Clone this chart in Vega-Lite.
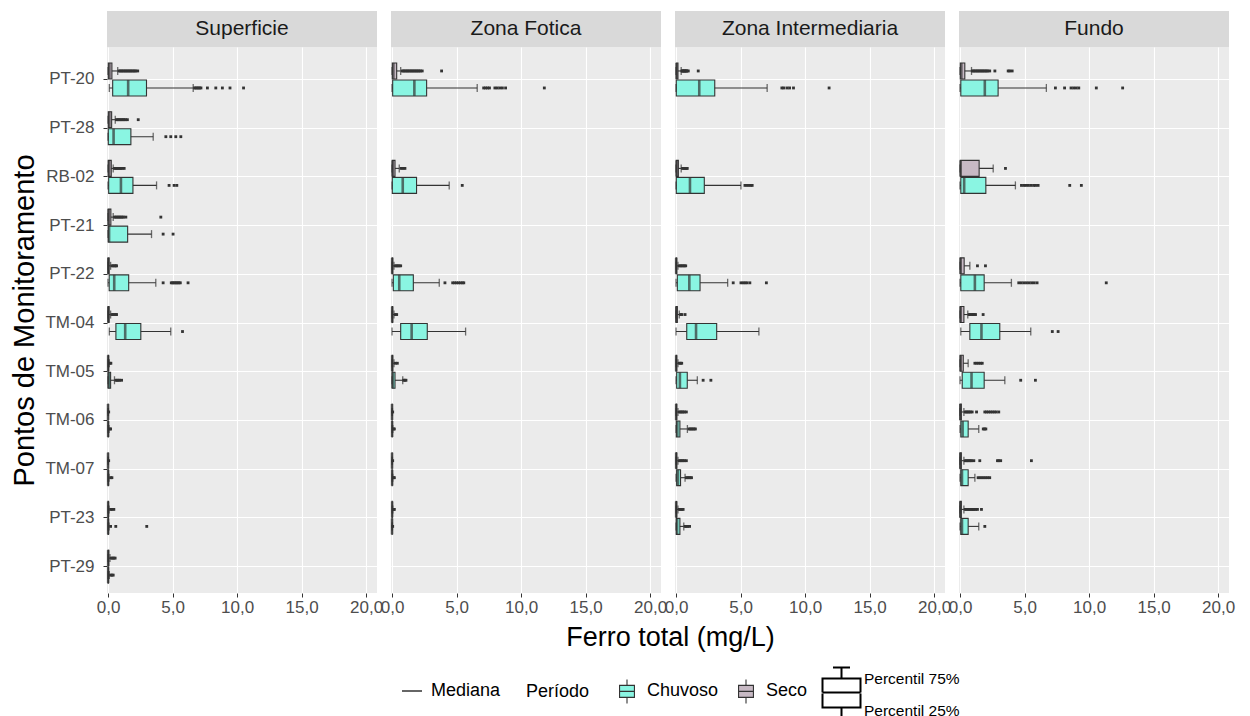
{
"$schema": "https://vega.github.io/schema/vega-lite/v6.json",
"padding": {"left": 10, "top": 11, "right": 5, "bottom": 0},
"background": "white",
"config": {
  "font": "Liberation Sans",
  "view": {"stroke": null},
  "legend": {"padding": 0}
},
"data": {"values": [
{"k":"b","z":"Superficie","p":"PT-20","t":"Seco","lo":0,"q1":0.02,"md":0.1,"q3":0.3,"hi":0.75},
{"k":"b","z":"Superficie","p":"PT-20","t":"Chuvoso","lo":0.1,"q1":0.36,"md":1.56,"q3":2.98,"hi":6.6},
{"k":"b","z":"Superficie","p":"PT-28","t":"Seco","lo":0,"q1":0.02,"md":0.1,"q3":0.28,"hi":0.56},
{"k":"b","z":"Superficie","p":"PT-28","t":"Chuvoso","lo":0,"q1":0.02,"md":0.43,"q3":1.77,"hi":3.5},
{"k":"b","z":"Superficie","p":"RB-02","t":"Seco","lo":0,"q1":0.02,"md":0.08,"q3":0.25,"hi":0.4},
{"k":"b","z":"Superficie","p":"RB-02","t":"Chuvoso","lo":0,"q1":0.05,"md":1.0,"q3":1.93,"hi":3.76},
{"k":"b","z":"Superficie","p":"PT-21","t":"Seco","lo":0,"q1":0.01,"md":0.05,"q3":0.22,"hi":0.4},
{"k":"b","z":"Superficie","p":"PT-21","t":"Chuvoso","lo":0,"q1":0.02,"md":0.08,"q3":1.52,"hi":3.37},
{"k":"b","z":"Superficie","p":"PT-22","t":"Seco","lo":0,"q1":0,"md":0.02,"q3":0.08,"hi":0.2},
{"k":"b","z":"Superficie","p":"PT-22","t":"Chuvoso","lo":0,"q1":0.09,"md":0.48,"q3":1.6,"hi":3.7},
{"k":"b","z":"Superficie","p":"TM-04","t":"Seco","lo":0,"q1":0,"md":0.02,"q3":0.08,"hi":0.2},
{"k":"b","z":"Superficie","p":"TM-04","t":"Chuvoso","lo":0.1,"q1":0.61,"md":1.33,"q3":2.54,"hi":4.86},
{"k":"b","z":"Superficie","p":"TM-05","t":"Seco","lo":0,"q1":0,"md":0.01,"q3":0.04,"hi":0.1},
{"k":"b","z":"Superficie","p":"TM-05","t":"Chuvoso","lo":0,"q1":0.01,"md":0.05,"q3":0.2,"hi":0.5},
{"k":"b","z":"Superficie","p":"TM-06","t":"Seco","lo":0,"q1":0,"md":0,"q3":0.01,"hi":0.03},
{"k":"b","z":"Superficie","p":"TM-06","t":"Chuvoso","lo":0,"q1":0,"md":0.01,"q3":0.03,"hi":0.08},
{"k":"b","z":"Superficie","p":"TM-07","t":"Seco","lo":0,"q1":0,"md":0,"q3":0.01,"hi":0.03},
{"k":"b","z":"Superficie","p":"TM-07","t":"Chuvoso","lo":0,"q1":0,"md":0.01,"q3":0.03,"hi":0.08},
{"k":"b","z":"Superficie","p":"PT-23","t":"Seco","lo":0,"q1":0,"md":0.01,"q3":0.03,"hi":0.08},
{"k":"b","z":"Superficie","p":"PT-23","t":"Chuvoso","lo":0,"q1":0,"md":0.01,"q3":0.03,"hi":0.08},
{"k":"b","z":"Superficie","p":"PT-29","t":"Seco","lo":0,"q1":0,"md":0.01,"q3":0.05,"hi":0.15},
{"k":"b","z":"Superficie","p":"PT-29","t":"Chuvoso","lo":0,"q1":0,"md":0.01,"q3":0.03,"hi":0.1},
{"k":"b","z":"Zona Fotica","p":"PT-20","t":"Seco","lo":0,"q1":0.02,"md":0.1,"q3":0.36,"hi":0.67},
{"k":"b","z":"Zona Fotica","p":"PT-20","t":"Chuvoso","lo":0,"q1":0.05,"md":1.73,"q3":2.68,"hi":6.6},
{"k":"b","z":"Zona Fotica","p":"RB-02","t":"Seco","lo":0,"q1":0.02,"md":0.05,"q3":0.23,"hi":0.56},
{"k":"b","z":"Zona Fotica","p":"RB-02","t":"Chuvoso","lo":0,"q1":0.02,"md":0.83,"q3":1.9,"hi":4.43},
{"k":"b","z":"Zona Fotica","p":"PT-22","t":"Seco","lo":0,"q1":0,"md":0.01,"q3":0.05,"hi":0.15},
{"k":"b","z":"Zona Fotica","p":"PT-22","t":"Chuvoso","lo":0,"q1":0.1,"md":0.56,"q3":1.65,"hi":3.66},
{"k":"b","z":"Zona Fotica","p":"TM-04","t":"Seco","lo":0,"q1":0,"md":0.01,"q3":0.05,"hi":0.15},
{"k":"b","z":"Zona Fotica","p":"TM-04","t":"Chuvoso","lo":0,"q1":0.67,"md":1.52,"q3":2.73,"hi":5.7},
{"k":"b","z":"Zona Fotica","p":"TM-05","t":"Seco","lo":0,"q1":0,"md":0.01,"q3":0.05,"hi":0.15},
{"k":"b","z":"Zona Fotica","p":"TM-05","t":"Chuvoso","lo":0,"q1":0.01,"md":0.05,"q3":0.23,"hi":0.83},
{"k":"b","z":"Zona Fotica","p":"TM-06","t":"Seco","lo":0,"q1":0,"md":0,"q3":0.01,"hi":0.03},
{"k":"b","z":"Zona Fotica","p":"TM-06","t":"Chuvoso","lo":0,"q1":0,"md":0.01,"q3":0.02,"hi":0.06},
{"k":"b","z":"Zona Fotica","p":"TM-07","t":"Seco","lo":0,"q1":0,"md":0,"q3":0.01,"hi":0.03},
{"k":"b","z":"Zona Fotica","p":"TM-07","t":"Chuvoso","lo":0,"q1":0,"md":0.01,"q3":0.02,"hi":0.06},
{"k":"b","z":"Zona Fotica","p":"PT-23","t":"Seco","lo":0,"q1":0,"md":0.01,"q3":0.02,"hi":0.06},
{"k":"b","z":"Zona Fotica","p":"PT-23","t":"Chuvoso","lo":0,"q1":0,"md":0,"q3":0.01,"hi":0.03},
{"k":"b","z":"Zona Intermediaria","p":"PT-20","t":"Seco","lo":0,"q1":0.02,"md":0.05,"q3":0.15,"hi":0.4},
{"k":"b","z":"Zona Intermediaria","p":"PT-20","t":"Chuvoso","lo":0,"q1":0.02,"md":1.8,"q3":3.0,"hi":7.06},
{"k":"b","z":"Zona Intermediaria","p":"RB-02","t":"Seco","lo":0,"q1":0.02,"md":0.05,"q3":0.18,"hi":0.4},
{"k":"b","z":"Zona Intermediaria","p":"RB-02","t":"Chuvoso","lo":0,"q1":0.02,"md":1.08,"q3":2.19,"hi":5.03},
{"k":"b","z":"Zona Intermediaria","p":"PT-22","t":"Seco","lo":0,"q1":0,"md":0.01,"q3":0.05,"hi":0.15},
{"k":"b","z":"Zona Intermediaria","p":"PT-22","t":"Chuvoso","lo":0,"q1":0.1,"md":1.03,"q3":1.86,"hi":4.0},
{"k":"b","z":"Zona Intermediaria","p":"TM-04","t":"Seco","lo":0,"q1":0,"md":0.02,"q3":0.1,"hi":0.25},
{"k":"b","z":"Zona Intermediaria","p":"TM-04","t":"Chuvoso","lo":0,"q1":0.83,"md":1.55,"q3":3.15,"hi":6.42},
{"k":"b","z":"Zona Intermediaria","p":"TM-05","t":"Seco","lo":0,"q1":0,"md":0.01,"q3":0.05,"hi":0.15},
{"k":"b","z":"Zona Intermediaria","p":"TM-05","t":"Chuvoso","lo":0,"q1":0.05,"md":0.3,"q3":0.87,"hi":1.65},
{"k":"b","z":"Zona Intermediaria","p":"TM-06","t":"Seco","lo":0,"q1":0,"md":0.01,"q3":0.05,"hi":0.15},
{"k":"b","z":"Zona Intermediaria","p":"TM-06","t":"Chuvoso","lo":0,"q1":0.02,"md":0.1,"q3":0.3,"hi":0.88},
{"k":"b","z":"Zona Intermediaria","p":"TM-07","t":"Seco","lo":0,"q1":0,"md":0.01,"q3":0.05,"hi":0.15},
{"k":"b","z":"Zona Intermediaria","p":"TM-07","t":"Chuvoso","lo":0,"q1":0.05,"md":0.15,"q3":0.35,"hi":0.7},
{"k":"b","z":"Zona Intermediaria","p":"PT-23","t":"Seco","lo":0,"q1":0,"md":0.01,"q3":0.05,"hi":0.15},
{"k":"b","z":"Zona Intermediaria","p":"PT-23","t":"Chuvoso","lo":0,"q1":0.02,"md":0.08,"q3":0.3,"hi":0.6},
{"k":"b","z":"Fundo","p":"PT-20","t":"Seco","lo":0,"q1":0.02,"md":0.1,"q3":0.37,"hi":0.89},
{"k":"b","z":"Fundo","p":"PT-20","t":"Chuvoso","lo":0,"q1":0.06,"md":1.92,"q3":2.95,"hi":6.69},
{"k":"b","z":"Fundo","p":"RB-02","t":"Seco","lo":0,"q1":0.02,"md":0.05,"q3":1.48,"hi":2.57},
{"k":"b","z":"Fundo","p":"RB-02","t":"Chuvoso","lo":0,"q1":0.06,"md":0.32,"q3":2.0,"hi":4.29},
{"k":"b","z":"Fundo","p":"PT-22","t":"Seco","lo":0,"q1":0.01,"md":0.05,"q3":0.32,"hi":0.76},
{"k":"b","z":"Fundo","p":"PT-22","t":"Chuvoso","lo":0,"q1":0.06,"md":1.15,"q3":1.87,"hi":3.98},
{"k":"b","z":"Fundo","p":"TM-04","t":"Seco","lo":0,"q1":0.01,"md":0.05,"q3":0.3,"hi":0.6},
{"k":"b","z":"Fundo","p":"TM-04","t":"Chuvoso","lo":0.06,"q1":0.76,"md":1.66,"q3":3.08,"hi":5.48},
{"k":"b","z":"Fundo","p":"TM-05","t":"Seco","lo":0,"q1":0.01,"md":0.05,"q3":0.25,"hi":0.63},
{"k":"b","z":"Fundo","p":"TM-05","t":"Chuvoso","lo":0,"q1":0.17,"md":0.89,"q3":1.87,"hi":3.47},
{"k":"b","z":"Fundo","p":"TM-06","t":"Seco","lo":0,"q1":0,"md":0.02,"q3":0.1,"hi":0.3},
{"k":"b","z":"Fundo","p":"TM-06","t":"Chuvoso","lo":0,"q1":0.06,"md":0.2,"q3":0.63,"hi":1.45},
{"k":"b","z":"Fundo","p":"TM-07","t":"Seco","lo":0,"q1":0,"md":0.02,"q3":0.1,"hi":0.3},
{"k":"b","z":"Fundo","p":"TM-07","t":"Chuvoso","lo":0,"q1":0.06,"md":0.15,"q3":0.63,"hi":1.15},
{"k":"b","z":"Fundo","p":"PT-23","t":"Seco","lo":0,"q1":0,"md":0.02,"q3":0.1,"hi":0.3},
{"k":"b","z":"Fundo","p":"PT-23","t":"Chuvoso","lo":0,"q1":0.06,"md":0.15,"q3":0.63,"hi":1.45},
{"k":"o","z":"Superficie","p":"PT-20","t":"Seco","v":0.85},{"k":"o","z":"Superficie","p":"PT-20","t":"Seco","v":0.95},{"k":"o","z":"Superficie","p":"PT-20","t":"Seco","v":1.05},{"k":"o","z":"Superficie","p":"PT-20","t":"Seco","v":1.15},{"k":"o","z":"Superficie","p":"PT-20","t":"Seco","v":1.25},{"k":"o","z":"Superficie","p":"PT-20","t":"Seco","v":1.35},{"k":"o","z":"Superficie","p":"PT-20","t":"Seco","v":1.45},{"k":"o","z":"Superficie","p":"PT-20","t":"Seco","v":1.55},{"k":"o","z":"Superficie","p":"PT-20","t":"Seco","v":1.65},{"k":"o","z":"Superficie","p":"PT-20","t":"Seco","v":1.75},{"k":"o","z":"Superficie","p":"PT-20","t":"Seco","v":1.85},{"k":"o","z":"Superficie","p":"PT-20","t":"Seco","v":1.95},{"k":"o","z":"Superficie","p":"PT-20","t":"Seco","v":2.05},{"k":"o","z":"Superficie","p":"PT-20","t":"Seco","v":2.15},{"k":"o","z":"Superficie","p":"PT-20","t":"Seco","v":2.3},
{"k":"o","z":"Superficie","p":"PT-20","t":"Chuvoso","v":6.7},{"k":"o","z":"Superficie","p":"PT-20","t":"Chuvoso","v":6.8},{"k":"o","z":"Superficie","p":"PT-20","t":"Chuvoso","v":6.9},{"k":"o","z":"Superficie","p":"PT-20","t":"Chuvoso","v":7.0},{"k":"o","z":"Superficie","p":"PT-20","t":"Chuvoso","v":7.1},{"k":"o","z":"Superficie","p":"PT-20","t":"Chuvoso","v":7.2},{"k":"o","z":"Superficie","p":"PT-20","t":"Chuvoso","v":7.7},{"k":"o","z":"Superficie","p":"PT-20","t":"Chuvoso","v":8.35},{"k":"o","z":"Superficie","p":"PT-20","t":"Chuvoso","v":8.86},{"k":"o","z":"Superficie","p":"PT-20","t":"Chuvoso","v":9.45},{"k":"o","z":"Superficie","p":"PT-20","t":"Chuvoso","v":10.5},
{"k":"o","z":"Superficie","p":"PT-28","t":"Seco","v":0.65},{"k":"o","z":"Superficie","p":"PT-28","t":"Seco","v":0.75},{"k":"o","z":"Superficie","p":"PT-28","t":"Seco","v":0.85},{"k":"o","z":"Superficie","p":"PT-28","t":"Seco","v":0.95},{"k":"o","z":"Superficie","p":"PT-28","t":"Seco","v":1.05},{"k":"o","z":"Superficie","p":"PT-28","t":"Seco","v":1.15},{"k":"o","z":"Superficie","p":"PT-28","t":"Seco","v":1.25},{"k":"o","z":"Superficie","p":"PT-28","t":"Seco","v":1.35},{"k":"o","z":"Superficie","p":"PT-28","t":"Seco","v":1.5},{"k":"o","z":"Superficie","p":"PT-28","t":"Seco","v":2.34},
{"k":"o","z":"Superficie","p":"PT-28","t":"Chuvoso","v":4.48},{"k":"o","z":"Superficie","p":"PT-28","t":"Chuvoso","v":4.86},{"k":"o","z":"Superficie","p":"PT-28","t":"Chuvoso","v":5.25},{"k":"o","z":"Superficie","p":"PT-28","t":"Chuvoso","v":5.64},
{"k":"o","z":"Superficie","p":"RB-02","t":"Seco","v":0.5},{"k":"o","z":"Superficie","p":"RB-02","t":"Seco","v":0.6},{"k":"o","z":"Superficie","p":"RB-02","t":"Seco","v":0.7},{"k":"o","z":"Superficie","p":"RB-02","t":"Seco","v":0.8},{"k":"o","z":"Superficie","p":"RB-02","t":"Seco","v":0.9},{"k":"o","z":"Superficie","p":"RB-02","t":"Seco","v":1.0},{"k":"o","z":"Superficie","p":"RB-02","t":"Seco","v":1.1},{"k":"o","z":"Superficie","p":"RB-02","t":"Seco","v":1.25},
{"k":"o","z":"Superficie","p":"RB-02","t":"Chuvoso","v":4.73},{"k":"o","z":"Superficie","p":"RB-02","t":"Chuvoso","v":5.12},{"k":"o","z":"Superficie","p":"RB-02","t":"Chuvoso","v":5.33},
{"k":"o","z":"Superficie","p":"PT-21","t":"Seco","v":0.5},{"k":"o","z":"Superficie","p":"PT-21","t":"Seco","v":0.6},{"k":"o","z":"Superficie","p":"PT-21","t":"Seco","v":0.7},{"k":"o","z":"Superficie","p":"PT-21","t":"Seco","v":0.8},{"k":"o","z":"Superficie","p":"PT-21","t":"Seco","v":0.9},{"k":"o","z":"Superficie","p":"PT-21","t":"Seco","v":1.0},{"k":"o","z":"Superficie","p":"PT-21","t":"Seco","v":1.1},{"k":"o","z":"Superficie","p":"PT-21","t":"Seco","v":1.2},{"k":"o","z":"Superficie","p":"PT-21","t":"Seco","v":1.38},{"k":"o","z":"Superficie","p":"PT-21","t":"Seco","v":4.09},
{"k":"o","z":"Superficie","p":"PT-21","t":"Chuvoso","v":4.27},{"k":"o","z":"Superficie","p":"PT-21","t":"Chuvoso","v":5.04},
{"k":"o","z":"Superficie","p":"PT-22","t":"Seco","v":0.3},{"k":"o","z":"Superficie","p":"PT-22","t":"Seco","v":0.4},{"k":"o","z":"Superficie","p":"PT-22","t":"Seco","v":0.5},{"k":"o","z":"Superficie","p":"PT-22","t":"Seco","v":0.6},{"k":"o","z":"Superficie","p":"PT-22","t":"Seco","v":0.66},
{"k":"o","z":"Superficie","p":"PT-22","t":"Chuvoso","v":4.27},{"k":"o","z":"Superficie","p":"PT-22","t":"Chuvoso","v":4.9},{"k":"o","z":"Superficie","p":"PT-22","t":"Chuvoso","v":5.0},{"k":"o","z":"Superficie","p":"PT-22","t":"Chuvoso","v":5.1},{"k":"o","z":"Superficie","p":"PT-22","t":"Chuvoso","v":5.2},{"k":"o","z":"Superficie","p":"PT-22","t":"Chuvoso","v":5.3},{"k":"o","z":"Superficie","p":"PT-22","t":"Chuvoso","v":5.4},{"k":"o","z":"Superficie","p":"PT-22","t":"Chuvoso","v":5.5},{"k":"o","z":"Superficie","p":"PT-22","t":"Chuvoso","v":5.6},{"k":"o","z":"Superficie","p":"PT-22","t":"Chuvoso","v":6.2},
{"k":"o","z":"Superficie","p":"TM-04","t":"Seco","v":0.3},{"k":"o","z":"Superficie","p":"TM-04","t":"Seco","v":0.4},{"k":"o","z":"Superficie","p":"TM-04","t":"Seco","v":0.5},{"k":"o","z":"Superficie","p":"TM-04","t":"Seco","v":0.6},{"k":"o","z":"Superficie","p":"TM-04","t":"Seco","v":0.66},
{"k":"o","z":"Superficie","p":"TM-04","t":"Chuvoso","v":5.77},
{"k":"o","z":"Superficie","p":"TM-05","t":"Seco","v":0.15},{"k":"o","z":"Superficie","p":"TM-05","t":"Seco","v":0.22},
{"k":"o","z":"Superficie","p":"TM-05","t":"Chuvoso","v":0.6},{"k":"o","z":"Superficie","p":"TM-05","t":"Chuvoso","v":0.7},{"k":"o","z":"Superficie","p":"TM-05","t":"Chuvoso","v":0.8},{"k":"o","z":"Superficie","p":"TM-05","t":"Chuvoso","v":0.9},{"k":"o","z":"Superficie","p":"TM-05","t":"Chuvoso","v":1.05},
{"k":"o","z":"Superficie","p":"TM-06","t":"Seco","v":0.05},
{"k":"o","z":"Superficie","p":"TM-06","t":"Chuvoso","v":0.15},{"k":"o","z":"Superficie","p":"TM-06","t":"Chuvoso","v":0.2},
{"k":"o","z":"Superficie","p":"TM-07","t":"Seco","v":0.05},
{"k":"o","z":"Superficie","p":"TM-07","t":"Chuvoso","v":0.2},{"k":"o","z":"Superficie","p":"TM-07","t":"Chuvoso","v":0.3},
{"k":"o","z":"Superficie","p":"PT-23","t":"Seco","v":0.2},{"k":"o","z":"Superficie","p":"PT-23","t":"Seco","v":0.3},{"k":"o","z":"Superficie","p":"PT-23","t":"Seco","v":0.45},
{"k":"o","z":"Superficie","p":"PT-23","t":"Chuvoso","v":0.2},{"k":"o","z":"Superficie","p":"PT-23","t":"Chuvoso","v":0.6},{"k":"o","z":"Superficie","p":"PT-23","t":"Chuvoso","v":3.0},
{"k":"o","z":"Superficie","p":"PT-29","t":"Seco","v":0.25},{"k":"o","z":"Superficie","p":"PT-29","t":"Seco","v":0.35},{"k":"o","z":"Superficie","p":"PT-29","t":"Seco","v":0.45},{"k":"o","z":"Superficie","p":"PT-29","t":"Seco","v":0.55},
{"k":"o","z":"Superficie","p":"PT-29","t":"Chuvoso","v":0.2},{"k":"o","z":"Superficie","p":"PT-29","t":"Chuvoso","v":0.3},{"k":"o","z":"Superficie","p":"PT-29","t":"Chuvoso","v":0.4},
{"k":"o","z":"Zona Fotica","p":"PT-20","t":"Seco","v":0.8},{"k":"o","z":"Zona Fotica","p":"PT-20","t":"Seco","v":0.9},{"k":"o","z":"Zona Fotica","p":"PT-20","t":"Seco","v":1.0},{"k":"o","z":"Zona Fotica","p":"PT-20","t":"Seco","v":1.1},{"k":"o","z":"Zona Fotica","p":"PT-20","t":"Seco","v":1.2},{"k":"o","z":"Zona Fotica","p":"PT-20","t":"Seco","v":1.3},{"k":"o","z":"Zona Fotica","p":"PT-20","t":"Seco","v":1.4},{"k":"o","z":"Zona Fotica","p":"PT-20","t":"Seco","v":1.5},{"k":"o","z":"Zona Fotica","p":"PT-20","t":"Seco","v":1.6},{"k":"o","z":"Zona Fotica","p":"PT-20","t":"Seco","v":1.7},{"k":"o","z":"Zona Fotica","p":"PT-20","t":"Seco","v":1.8},{"k":"o","z":"Zona Fotica","p":"PT-20","t":"Seco","v":1.9},{"k":"o","z":"Zona Fotica","p":"PT-20","t":"Seco","v":2.0},{"k":"o","z":"Zona Fotica","p":"PT-20","t":"Seco","v":2.1},{"k":"o","z":"Zona Fotica","p":"PT-20","t":"Seco","v":2.2},{"k":"o","z":"Zona Fotica","p":"PT-20","t":"Seco","v":2.34},{"k":"o","z":"Zona Fotica","p":"PT-20","t":"Seco","v":3.84},
{"k":"o","z":"Zona Fotica","p":"PT-20","t":"Chuvoso","v":7.1},{"k":"o","z":"Zona Fotica","p":"PT-20","t":"Chuvoso","v":7.25},{"k":"o","z":"Zona Fotica","p":"PT-20","t":"Chuvoso","v":7.4},{"k":"o","z":"Zona Fotica","p":"PT-20","t":"Chuvoso","v":7.55},{"k":"o","z":"Zona Fotica","p":"PT-20","t":"Chuvoso","v":7.97},{"k":"o","z":"Zona Fotica","p":"PT-20","t":"Chuvoso","v":8.15},{"k":"o","z":"Zona Fotica","p":"PT-20","t":"Chuvoso","v":8.35},{"k":"o","z":"Zona Fotica","p":"PT-20","t":"Chuvoso","v":8.55},{"k":"o","z":"Zona Fotica","p":"PT-20","t":"Chuvoso","v":8.8},{"k":"o","z":"Zona Fotica","p":"PT-20","t":"Chuvoso","v":11.8},
{"k":"o","z":"Zona Fotica","p":"RB-02","t":"Seco","v":0.7},{"k":"o","z":"Zona Fotica","p":"RB-02","t":"Seco","v":0.85},{"k":"o","z":"Zona Fotica","p":"RB-02","t":"Seco","v":1.0},
{"k":"o","z":"Zona Fotica","p":"RB-02","t":"Chuvoso","v":5.44},
{"k":"o","z":"Zona Fotica","p":"PT-22","t":"Seco","v":0.25},{"k":"o","z":"Zona Fotica","p":"PT-22","t":"Seco","v":0.35},{"k":"o","z":"Zona Fotica","p":"PT-22","t":"Seco","v":0.45},{"k":"o","z":"Zona Fotica","p":"PT-22","t":"Seco","v":0.55},{"k":"o","z":"Zona Fotica","p":"PT-22","t":"Seco","v":0.67},
{"k":"o","z":"Zona Fotica","p":"PT-22","t":"Chuvoso","v":4.1},{"k":"o","z":"Zona Fotica","p":"PT-22","t":"Chuvoso","v":4.7},{"k":"o","z":"Zona Fotica","p":"PT-22","t":"Chuvoso","v":4.85},{"k":"o","z":"Zona Fotica","p":"PT-22","t":"Chuvoso","v":5.0},{"k":"o","z":"Zona Fotica","p":"PT-22","t":"Chuvoso","v":5.15},{"k":"o","z":"Zona Fotica","p":"PT-22","t":"Chuvoso","v":5.3},{"k":"o","z":"Zona Fotica","p":"PT-22","t":"Chuvoso","v":5.45},{"k":"o","z":"Zona Fotica","p":"PT-22","t":"Chuvoso","v":5.56},
{"k":"o","z":"Zona Fotica","p":"TM-04","t":"Seco","v":0.25},{"k":"o","z":"Zona Fotica","p":"TM-04","t":"Seco","v":0.36},
{"k":"o","z":"Zona Fotica","p":"TM-05","t":"Seco","v":0.25},{"k":"o","z":"Zona Fotica","p":"TM-05","t":"Seco","v":0.41},
{"k":"o","z":"Zona Fotica","p":"TM-05","t":"Chuvoso","v":0.9},{"k":"o","z":"Zona Fotica","p":"TM-05","t":"Chuvoso","v":1.0},{"k":"o","z":"Zona Fotica","p":"TM-05","t":"Chuvoso","v":1.08},
{"k":"o","z":"Zona Fotica","p":"TM-06","t":"Seco","v":0.05},
{"k":"o","z":"Zona Fotica","p":"TM-06","t":"Chuvoso","v":0.12},{"k":"o","z":"Zona Fotica","p":"TM-06","t":"Chuvoso","v":0.18},
{"k":"o","z":"Zona Fotica","p":"TM-07","t":"Seco","v":0.05},
{"k":"o","z":"Zona Fotica","p":"TM-07","t":"Chuvoso","v":0.12},{"k":"o","z":"Zona Fotica","p":"TM-07","t":"Chuvoso","v":0.18},
{"k":"o","z":"Zona Fotica","p":"PT-23","t":"Seco","v":0.12},{"k":"o","z":"Zona Fotica","p":"PT-23","t":"Seco","v":0.18},
{"k":"o","z":"Zona Fotica","p":"PT-23","t":"Chuvoso","v":0.05},
{"k":"o","z":"Zona Intermediaria","p":"PT-20","t":"Seco","v":0.45},{"k":"o","z":"Zona Intermediaria","p":"PT-20","t":"Seco","v":0.5},{"k":"o","z":"Zona Intermediaria","p":"PT-20","t":"Seco","v":0.55},{"k":"o","z":"Zona Intermediaria","p":"PT-20","t":"Seco","v":0.6},{"k":"o","z":"Zona Intermediaria","p":"PT-20","t":"Seco","v":0.65},{"k":"o","z":"Zona Intermediaria","p":"PT-20","t":"Seco","v":0.7},{"k":"o","z":"Zona Intermediaria","p":"PT-20","t":"Seco","v":0.75},{"k":"o","z":"Zona Intermediaria","p":"PT-20","t":"Seco","v":0.8},{"k":"o","z":"Zona Intermediaria","p":"PT-20","t":"Seco","v":0.85},{"k":"o","z":"Zona Intermediaria","p":"PT-20","t":"Seco","v":0.95},{"k":"o","z":"Zona Intermediaria","p":"PT-20","t":"Seco","v":1.72},
{"k":"o","z":"Zona Intermediaria","p":"PT-20","t":"Chuvoso","v":8.2},{"k":"o","z":"Zona Intermediaria","p":"PT-20","t":"Chuvoso","v":8.35},{"k":"o","z":"Zona Intermediaria","p":"PT-20","t":"Chuvoso","v":8.6},{"k":"o","z":"Zona Intermediaria","p":"PT-20","t":"Chuvoso","v":8.8},{"k":"o","z":"Zona Intermediaria","p":"PT-20","t":"Chuvoso","v":9.1},{"k":"o","z":"Zona Intermediaria","p":"PT-20","t":"Chuvoso","v":11.86},
{"k":"o","z":"Zona Intermediaria","p":"RB-02","t":"Seco","v":0.5},{"k":"o","z":"Zona Intermediaria","p":"RB-02","t":"Seco","v":0.6},{"k":"o","z":"Zona Intermediaria","p":"RB-02","t":"Seco","v":0.7},{"k":"o","z":"Zona Intermediaria","p":"RB-02","t":"Seco","v":0.8},{"k":"o","z":"Zona Intermediaria","p":"RB-02","t":"Seco","v":0.87},
{"k":"o","z":"Zona Intermediaria","p":"RB-02","t":"Chuvoso","v":5.34},{"k":"o","z":"Zona Intermediaria","p":"RB-02","t":"Chuvoso","v":5.5},{"k":"o","z":"Zona Intermediaria","p":"RB-02","t":"Chuvoso","v":5.65},{"k":"o","z":"Zona Intermediaria","p":"RB-02","t":"Chuvoso","v":5.8},{"k":"o","z":"Zona Intermediaria","p":"RB-02","t":"Chuvoso","v":5.9},
{"k":"o","z":"Zona Intermediaria","p":"PT-22","t":"Seco","v":0.25},{"k":"o","z":"Zona Intermediaria","p":"PT-22","t":"Seco","v":0.35},{"k":"o","z":"Zona Intermediaria","p":"PT-22","t":"Seco","v":0.45},{"k":"o","z":"Zona Intermediaria","p":"PT-22","t":"Seco","v":0.55},{"k":"o","z":"Zona Intermediaria","p":"PT-22","t":"Seco","v":0.65},{"k":"o","z":"Zona Intermediaria","p":"PT-22","t":"Seco","v":0.75},
{"k":"o","z":"Zona Intermediaria","p":"PT-22","t":"Chuvoso","v":4.43},{"k":"o","z":"Zona Intermediaria","p":"PT-22","t":"Chuvoso","v":5.03},{"k":"o","z":"Zona Intermediaria","p":"PT-22","t":"Chuvoso","v":5.2},{"k":"o","z":"Zona Intermediaria","p":"PT-22","t":"Chuvoso","v":5.35},{"k":"o","z":"Zona Intermediaria","p":"PT-22","t":"Chuvoso","v":5.5},{"k":"o","z":"Zona Intermediaria","p":"PT-22","t":"Chuvoso","v":5.72},{"k":"o","z":"Zona Intermediaria","p":"PT-22","t":"Chuvoso","v":7.0},
{"k":"o","z":"Zona Intermediaria","p":"TM-04","t":"Seco","v":0.35},{"k":"o","z":"Zona Intermediaria","p":"TM-04","t":"Seco","v":0.45},{"k":"o","z":"Zona Intermediaria","p":"TM-04","t":"Seco","v":0.7},
{"k":"o","z":"Zona Intermediaria","p":"TM-05","t":"Seco","v":0.25},{"k":"o","z":"Zona Intermediaria","p":"TM-05","t":"Seco","v":0.35},{"k":"o","z":"Zona Intermediaria","p":"TM-05","t":"Seco","v":0.44},
{"k":"o","z":"Zona Intermediaria","p":"TM-05","t":"Chuvoso","v":2.1},{"k":"o","z":"Zona Intermediaria","p":"TM-05","t":"Chuvoso","v":2.7},
{"k":"o","z":"Zona Intermediaria","p":"TM-06","t":"Seco","v":0.25},{"k":"o","z":"Zona Intermediaria","p":"TM-06","t":"Seco","v":0.35},{"k":"o","z":"Zona Intermediaria","p":"TM-06","t":"Seco","v":0.45},{"k":"o","z":"Zona Intermediaria","p":"TM-06","t":"Seco","v":0.55},{"k":"o","z":"Zona Intermediaria","p":"TM-06","t":"Seco","v":0.65},{"k":"o","z":"Zona Intermediaria","p":"TM-06","t":"Seco","v":0.8},
{"k":"o","z":"Zona Intermediaria","p":"TM-06","t":"Chuvoso","v":1.0},{"k":"o","z":"Zona Intermediaria","p":"TM-06","t":"Chuvoso","v":1.1},{"k":"o","z":"Zona Intermediaria","p":"TM-06","t":"Chuvoso","v":1.2},{"k":"o","z":"Zona Intermediaria","p":"TM-06","t":"Chuvoso","v":1.3},{"k":"o","z":"Zona Intermediaria","p":"TM-06","t":"Chuvoso","v":1.4},{"k":"o","z":"Zona Intermediaria","p":"TM-06","t":"Chuvoso","v":1.5},
{"k":"o","z":"Zona Intermediaria","p":"TM-07","t":"Seco","v":0.25},{"k":"o","z":"Zona Intermediaria","p":"TM-07","t":"Seco","v":0.35},{"k":"o","z":"Zona Intermediaria","p":"TM-07","t":"Seco","v":0.45},{"k":"o","z":"Zona Intermediaria","p":"TM-07","t":"Seco","v":0.55},{"k":"o","z":"Zona Intermediaria","p":"TM-07","t":"Seco","v":0.65},{"k":"o","z":"Zona Intermediaria","p":"TM-07","t":"Seco","v":0.8},
{"k":"o","z":"Zona Intermediaria","p":"TM-07","t":"Chuvoso","v":0.8},{"k":"o","z":"Zona Intermediaria","p":"TM-07","t":"Chuvoso","v":0.9},{"k":"o","z":"Zona Intermediaria","p":"TM-07","t":"Chuvoso","v":1.0},{"k":"o","z":"Zona Intermediaria","p":"TM-07","t":"Chuvoso","v":1.1},{"k":"o","z":"Zona Intermediaria","p":"TM-07","t":"Chuvoso","v":1.2},
{"k":"o","z":"Zona Intermediaria","p":"PT-23","t":"Seco","v":0.25},{"k":"o","z":"Zona Intermediaria","p":"PT-23","t":"Seco","v":0.35},{"k":"o","z":"Zona Intermediaria","p":"PT-23","t":"Seco","v":0.45},{"k":"o","z":"Zona Intermediaria","p":"PT-23","t":"Seco","v":0.55},
{"k":"o","z":"Zona Intermediaria","p":"PT-23","t":"Chuvoso","v":0.7},{"k":"o","z":"Zona Intermediaria","p":"PT-23","t":"Chuvoso","v":0.8},{"k":"o","z":"Zona Intermediaria","p":"PT-23","t":"Chuvoso","v":0.9},{"k":"o","z":"Zona Intermediaria","p":"PT-23","t":"Chuvoso","v":1.05},
{"k":"o","z":"Fundo","p":"PT-20","t":"Seco","v":0.95},{"k":"o","z":"Fundo","p":"PT-20","t":"Seco","v":1.05},{"k":"o","z":"Fundo","p":"PT-20","t":"Seco","v":1.15},{"k":"o","z":"Fundo","p":"PT-20","t":"Seco","v":1.25},{"k":"o","z":"Fundo","p":"PT-20","t":"Seco","v":1.35},{"k":"o","z":"Fundo","p":"PT-20","t":"Seco","v":1.45},{"k":"o","z":"Fundo","p":"PT-20","t":"Seco","v":1.55},{"k":"o","z":"Fundo","p":"PT-20","t":"Seco","v":1.65},{"k":"o","z":"Fundo","p":"PT-20","t":"Seco","v":1.75},{"k":"o","z":"Fundo","p":"PT-20","t":"Seco","v":1.85},{"k":"o","z":"Fundo","p":"PT-20","t":"Seco","v":1.95},{"k":"o","z":"Fundo","p":"PT-20","t":"Seco","v":2.05},{"k":"o","z":"Fundo","p":"PT-20","t":"Seco","v":2.15},{"k":"o","z":"Fundo","p":"PT-20","t":"Seco","v":2.3},{"k":"o","z":"Fundo","p":"PT-20","t":"Seco","v":2.7},{"k":"o","z":"Fundo","p":"PT-20","t":"Seco","v":3.73},{"k":"o","z":"Fundo","p":"PT-20","t":"Seco","v":3.85},{"k":"o","z":"Fundo","p":"PT-20","t":"Seco","v":4.04},
{"k":"o","z":"Fundo","p":"PT-20","t":"Chuvoso","v":7.39},{"k":"o","z":"Fundo","p":"PT-20","t":"Chuvoso","v":8.1},{"k":"o","z":"Fundo","p":"PT-20","t":"Chuvoso","v":8.6},{"k":"o","z":"Fundo","p":"PT-20","t":"Chuvoso","v":8.8},{"k":"o","z":"Fundo","p":"PT-20","t":"Chuvoso","v":9.0},{"k":"o","z":"Fundo","p":"PT-20","t":"Chuvoso","v":9.2},{"k":"o","z":"Fundo","p":"PT-20","t":"Chuvoso","v":10.56},{"k":"o","z":"Fundo","p":"PT-20","t":"Chuvoso","v":12.6},
{"k":"o","z":"Fundo","p":"RB-02","t":"Seco","v":3.52},
{"k":"o","z":"Fundo","p":"RB-02","t":"Chuvoso","v":4.76},{"k":"o","z":"Fundo","p":"RB-02","t":"Chuvoso","v":4.95},{"k":"o","z":"Fundo","p":"RB-02","t":"Chuvoso","v":5.1},{"k":"o","z":"Fundo","p":"RB-02","t":"Chuvoso","v":5.3},{"k":"o","z":"Fundo","p":"RB-02","t":"Chuvoso","v":5.5},{"k":"o","z":"Fundo","p":"RB-02","t":"Chuvoso","v":5.7},{"k":"o","z":"Fundo","p":"RB-02","t":"Chuvoso","v":5.85},{"k":"o","z":"Fundo","p":"RB-02","t":"Chuvoso","v":6.05},{"k":"o","z":"Fundo","p":"RB-02","t":"Chuvoso","v":8.5},{"k":"o","z":"Fundo","p":"RB-02","t":"Chuvoso","v":9.4},
{"k":"o","z":"Fundo","p":"PT-22","t":"Seco","v":1.35},{"k":"o","z":"Fundo","p":"PT-22","t":"Seco","v":1.97},
{"k":"o","z":"Fundo","p":"PT-22","t":"Chuvoso","v":4.55},{"k":"o","z":"Fundo","p":"PT-22","t":"Chuvoso","v":4.75},{"k":"o","z":"Fundo","p":"PT-22","t":"Chuvoso","v":4.95},{"k":"o","z":"Fundo","p":"PT-22","t":"Chuvoso","v":5.15},{"k":"o","z":"Fundo","p":"PT-22","t":"Chuvoso","v":5.35},{"k":"o","z":"Fundo","p":"PT-22","t":"Chuvoso","v":5.55},{"k":"o","z":"Fundo","p":"PT-22","t":"Chuvoso","v":5.75},{"k":"o","z":"Fundo","p":"PT-22","t":"Chuvoso","v":5.97},{"k":"o","z":"Fundo","p":"PT-22","t":"Chuvoso","v":11.33},
{"k":"o","z":"Fundo","p":"TM-04","t":"Seco","v":0.7},{"k":"o","z":"Fundo","p":"TM-04","t":"Seco","v":0.8},{"k":"o","z":"Fundo","p":"TM-04","t":"Seco","v":0.9},{"k":"o","z":"Fundo","p":"TM-04","t":"Seco","v":1.0},{"k":"o","z":"Fundo","p":"TM-04","t":"Seco","v":1.1},{"k":"o","z":"Fundo","p":"TM-04","t":"Seco","v":1.2},{"k":"o","z":"Fundo","p":"TM-04","t":"Seco","v":1.79},
{"k":"o","z":"Fundo","p":"TM-04","t":"Chuvoso","v":7.15},{"k":"o","z":"Fundo","p":"TM-04","t":"Chuvoso","v":7.6},
{"k":"o","z":"Fundo","p":"TM-05","t":"Seco","v":1.15},{"k":"o","z":"Fundo","p":"TM-05","t":"Seco","v":1.3},{"k":"o","z":"Fundo","p":"TM-05","t":"Seco","v":1.45},{"k":"o","z":"Fundo","p":"TM-05","t":"Seco","v":1.6},{"k":"o","z":"Fundo","p":"TM-05","t":"Seco","v":1.72},
{"k":"o","z":"Fundo","p":"TM-05","t":"Chuvoso","v":4.7},{"k":"o","z":"Fundo","p":"TM-05","t":"Chuvoso","v":5.84},
{"k":"o","z":"Fundo","p":"TM-06","t":"Seco","v":0.4},{"k":"o","z":"Fundo","p":"TM-06","t":"Seco","v":0.5},{"k":"o","z":"Fundo","p":"TM-06","t":"Seco","v":0.6},{"k":"o","z":"Fundo","p":"TM-06","t":"Seco","v":0.7},{"k":"o","z":"Fundo","p":"TM-06","t":"Seco","v":0.8},{"k":"o","z":"Fundo","p":"TM-06","t":"Seco","v":0.94},{"k":"o","z":"Fundo","p":"TM-06","t":"Seco","v":1.28},{"k":"o","z":"Fundo","p":"TM-06","t":"Seco","v":1.92},{"k":"o","z":"Fundo","p":"TM-06","t":"Seco","v":2.05},{"k":"o","z":"Fundo","p":"TM-06","t":"Seco","v":2.2},{"k":"o","z":"Fundo","p":"TM-06","t":"Seco","v":2.35},{"k":"o","z":"Fundo","p":"TM-06","t":"Seco","v":2.5},{"k":"o","z":"Fundo","p":"TM-06","t":"Seco","v":2.65},{"k":"o","z":"Fundo","p":"TM-06","t":"Seco","v":2.8},{"k":"o","z":"Fundo","p":"TM-06","t":"Seco","v":3.0},
{"k":"o","z":"Fundo","p":"TM-06","t":"Chuvoso","v":1.8},{"k":"o","z":"Fundo","p":"TM-06","t":"Chuvoso","v":1.9},{"k":"o","z":"Fundo","p":"TM-06","t":"Chuvoso","v":2.0},
{"k":"o","z":"Fundo","p":"TM-07","t":"Seco","v":0.4},{"k":"o","z":"Fundo","p":"TM-07","t":"Seco","v":0.5},{"k":"o","z":"Fundo","p":"TM-07","t":"Seco","v":0.6},{"k":"o","z":"Fundo","p":"TM-07","t":"Seco","v":0.7},{"k":"o","z":"Fundo","p":"TM-07","t":"Seco","v":0.8},{"k":"o","z":"Fundo","p":"TM-07","t":"Seco","v":0.9},{"k":"o","z":"Fundo","p":"TM-07","t":"Seco","v":1.07},{"k":"o","z":"Fundo","p":"TM-07","t":"Seco","v":1.53},{"k":"o","z":"Fundo","p":"TM-07","t":"Seco","v":2.9},{"k":"o","z":"Fundo","p":"TM-07","t":"Seco","v":3.0},{"k":"o","z":"Fundo","p":"TM-07","t":"Seco","v":3.15},{"k":"o","z":"Fundo","p":"TM-07","t":"Seco","v":5.53},
{"k":"o","z":"Fundo","p":"TM-07","t":"Chuvoso","v":1.4},{"k":"o","z":"Fundo","p":"TM-07","t":"Chuvoso","v":1.55},{"k":"o","z":"Fundo","p":"TM-07","t":"Chuvoso","v":1.7},{"k":"o","z":"Fundo","p":"TM-07","t":"Chuvoso","v":1.85},{"k":"o","z":"Fundo","p":"TM-07","t":"Chuvoso","v":2.0},{"k":"o","z":"Fundo","p":"TM-07","t":"Chuvoso","v":2.15},{"k":"o","z":"Fundo","p":"TM-07","t":"Chuvoso","v":2.3},
{"k":"o","z":"Fundo","p":"PT-23","t":"Seco","v":0.4},{"k":"o","z":"Fundo","p":"PT-23","t":"Seco","v":0.5},{"k":"o","z":"Fundo","p":"PT-23","t":"Seco","v":0.6},{"k":"o","z":"Fundo","p":"PT-23","t":"Seco","v":0.7},{"k":"o","z":"Fundo","p":"PT-23","t":"Seco","v":0.8},{"k":"o","z":"Fundo","p":"PT-23","t":"Seco","v":0.9},{"k":"o","z":"Fundo","p":"PT-23","t":"Seco","v":1.0},{"k":"o","z":"Fundo","p":"PT-23","t":"Seco","v":1.1},{"k":"o","z":"Fundo","p":"PT-23","t":"Seco","v":1.2},{"k":"o","z":"Fundo","p":"PT-23","t":"Seco","v":1.35},{"k":"o","z":"Fundo","p":"PT-23","t":"Seco","v":1.66},
{"k":"o","z":"Fundo","p":"PT-23","t":"Chuvoso","v":1.92}
]},
"columns": 4,
"spacing": {"row": 0, "column": 14},
"align": "each",
"bounds": "flush",
"resolve": {"legend": {"color": "independent", "fill": "independent", "shape": "independent"}},
"concat": [
  {"data": {"values": [{"z": "Superficie"}]}, "width": 270, "height": 36, "view": {"fill": "#D9D9D9", "stroke": null},
   "mark": {"type": "text", "fontSize": 21, "color": "#1A1A1A", "font": "Liberation Sans"}, "encoding": {"text": {"field": "z", "type": "nominal"}}},
  {"data": {"values": [{"z": "Zona Fotica"}]}, "width": 270, "height": 36, "view": {"fill": "#D9D9D9", "stroke": null},
   "mark": {"type": "text", "fontSize": 21, "color": "#1A1A1A", "font": "Liberation Sans"}, "encoding": {"text": {"field": "z", "type": "nominal"}}},
  {"data": {"values": [{"z": "Zona Intermediaria"}]}, "width": 270, "height": 36, "view": {"fill": "#D9D9D9", "stroke": null},
   "mark": {"type": "text", "fontSize": 21, "color": "#1A1A1A", "font": "Liberation Sans"}, "encoding": {"text": {"field": "z", "type": "nominal"}}},
  {"data": {"values": [{"z": "Fundo"}]}, "width": 270, "height": 36, "view": {"fill": "#D9D9D9", "stroke": null},
   "mark": {"type": "text", "fontSize": 21, "color": "#1A1A1A", "font": "Liberation Sans"}, "encoding": {"text": {"field": "z", "type": "nominal"}}},
  {
    "width": 270, "height": 546, "view": {"fill": "#EBEBEB", "stroke": null},
    "transform": [{"filter": "datum.z == 'Superficie'"}],
    "encoding": {
      "y": {"field": "p", "type": "nominal", "title": "Pontos de Monitoramento",
            "sort": ["PT-20","PT-28","RB-02","PT-21","PT-22","TM-04","TM-05","TM-06","TM-07","PT-23","PT-29"],
            "scale": {"domain": ["PT-20","PT-28","RB-02","PT-21","PT-22","TM-04","TM-05","TM-06","TM-07","PT-23","PT-29"], "paddingInner": 0, "paddingOuter": 0.104, "align": 0.8},
            "axis": {"domain": false, "grid": true, "gridColor": "white", "gridWidth": 1.1, "bandPosition": 0.5, "tickColor": "#333333", "tickSize": 4, "labelColor": "#4D4D4D", "labelFontSize": 17, "labelPadding": 9, "titleFontSize": 29, "titleFontWeight": "normal", "titleColor": "#000000", "titlePadding": 5}},
      "yOffset": {"field": "t", "type": "nominal", "sort": ["Seco","Chuvoso"], "scale": {"domain": ["Seco","Chuvoso"], "paddingInner": 0.06, "paddingOuter": 0.463}}
    },
    "layer": [
      {"transform": [{"filter": "datum.k == 'b'"}], "mark": {"type": "rule", "strokeWidth": 1.1},
       "encoding": {
         "x": {"field": "lo", "type": "quantitative", "title": null, "scale": {"domain": [-0.08, 20.84], "nice": false, "zero": false},
               "axis": {"values": [0,2.5,5,7.5,10,12.5,15,17.5,20], "labelExpr": "datum.value % 5 == 0 ? replace(format(datum.value, '.1f'), '.', ',') : ''", "domain": false, "gridColor": "white", "gridWidth": {"condition": {"test": "datum.value % 5 == 0", "value": 1.1}, "value": 0.6}, "tickOpacity": {"condition": {"test": "datum.value % 5 == 0", "value": 1}, "value": 0}, "tickColor": "#333333", "tickSize": 4, "labelColor": "#4D4D4D", "labelFontSize": 17, "labelOverlap": false, "labelFlush": false, "labelPadding": 2}},
         "x2": {"field": "hi"},
         "color": {"datum": "Mediana", "type": "nominal", "scale": {"domain": ["Mediana"], "range": ["#333333"]},
                   "legend": {"title": null, "orient": "none", "legendX": 294, "legendY": 633, "symbolType": "stroke", "symbolStrokeWidth": 1.5, "symbolSize": 400, "labelFontSize": 18, "labelColor": "#000000", "labelOffset": 8}}}},
      {"transform": [{"filter": "datum.k == 'b'"}, {"fold": ["lo", "hi"], "as": ["key", "val"]}], "mark": {"type": "point", "filled": false, "color": "#000000", "strokeWidth": 2, "opacity": 0, "size": 625},
       "encoding": {"x": {"field": "q1", "type": "quantitative"},
         "shape": {"field": "key", "type": "nominal",
                   "scale": {"domain": ["hi", "lo"], "range": ["M-0.68,-0.88H0.68M0,-0.88V0M-1.52,1.12V0H1.52V1.12M-1.52,1.12H1.52", "M-1.52,-1.36V-0.24H1.52V-1.36M0,-0.24V0.56M-0.68,0.56H0.68"]},
                   "legend": {"title": null, "orient": "none", "legendX": 721, "legendY": 618, "direction": "vertical", "rowPadding": -9, "symbolSize": 625, "symbolOpacity": 1, "symbolStrokeWidth": 2, "symbolStrokeColor": "#000000", "symbolFillColor": "transparent",
                              "labelExpr": "datum.value == 'hi' ? 'Percentil 75%' : 'Percentil 25%'", "labelFontSize": 15.5, "labelColor": "#000000", "labelOffset": 9}}}},
      {"transform": [{"filter": "datum.k == 'b'"}], "mark": {"type": "bar", "stroke": "#333333", "strokeWidth": 1.1},
       "encoding": {"x": {"field": "q1", "type": "quantitative"}, "x2": {"field": "q3"},
         "fill": {"field": "t", "type": "nominal", "scale": {"domain": ["Chuvoso","Seco"], "range": ["#8AF5E2","#C7B9C4"]},
                  "legend": {"title": "Período", "orient": "none", "legendX": 419, "legendY": 631, "direction": "horizontal", "titleOrient": "left", "titleBaseline": "middle", "symbolType": "M-0.62,-0.5H0.62V0.5H-0.62Z M-0.62,0H0.62 M0,-1V-0.5 M0,0.5V1", "symbolSize": 576, "symbolStrokeColor": "#333333", "symbolStrokeWidth": 1.1, "labelFontSize": 18, "labelColor": "#000000", "labelOffset": 7, "titleFontSize": 18, "titleFontWeight": "normal", "titleColor": "#000000", "titlePadding": 24, "columnPadding": 14}}}},
      {"transform": [{"filter": "datum.k == 'b'"}], "mark": {"type": "tick", "color": "#333333", "thickness": 2.6, "size": 16},
       "encoding": {"x": {"field": "md", "type": "quantitative"}}},
      {"transform": [{"filter": "datum.k == 'b'"}, {"fold": ["lo", "hi"], "as": ["key", "val"]}], "mark": {"type": "tick", "color": "#333333", "thickness": 1.3, "size": 8},
       "encoding": {"x": {"field": "val", "type": "quantitative"}}},
      {"transform": [{"filter": "datum.k == 'o'"}], "mark": {"type": "square", "color": "#333333", "size": 8, "opacity": 1},
       "encoding": {"x": {"field": "v", "type": "quantitative"}}}
    ]
  },
  {
    "width": 270, "height": 546, "view": {"fill": "#EBEBEB", "stroke": null},
    "transform": [{"filter": "datum.z == 'Zona Fotica'"}],
    "encoding": {
      "y": {"field": "p", "type": "nominal", "title": null,
            "sort": ["PT-20","PT-28","RB-02","PT-21","PT-22","TM-04","TM-05","TM-06","TM-07","PT-23","PT-29"],
            "scale": {"domain": ["PT-20","PT-28","RB-02","PT-21","PT-22","TM-04","TM-05","TM-06","TM-07","PT-23","PT-29"], "paddingInner": 0, "paddingOuter": 0.104, "align": 0.8},
            "axis": {"domain": false, "labels": false, "ticks": false, "grid": true, "gridColor": "white", "gridWidth": 1.1, "bandPosition": 0.5}},
      "yOffset": {"field": "t", "type": "nominal", "sort": ["Seco","Chuvoso"], "scale": {"domain": ["Seco","Chuvoso"], "paddingInner": 0.06, "paddingOuter": 0.463}}
    },
    "layer": [
      {"transform": [{"filter": "datum.k == 'b'"}], "mark": {"type": "rule", "strokeWidth": 1.1, "color": "#333333"},
       "encoding": {
         "x": {"field": "lo", "type": "quantitative", "title": null, "scale": {"domain": [-0.08, 20.84], "nice": false, "zero": false},
               "axis": {"values": [0,2.5,5,7.5,10,12.5,15,17.5,20], "labelExpr": "datum.value % 5 == 0 ? replace(format(datum.value, '.1f'), '.', ',') : ''", "domain": false, "gridColor": "white", "gridWidth": {"condition": {"test": "datum.value % 5 == 0", "value": 1.1}, "value": 0.6}, "tickOpacity": {"condition": {"test": "datum.value % 5 == 0", "value": 1}, "value": 0}, "tickColor": "#333333", "tickSize": 4, "labelColor": "#4D4D4D", "labelFontSize": 17, "labelOverlap": false, "labelFlush": false, "labelPadding": 2}},
         "x2": {"field": "hi"}}},
      {"transform": [{"filter": "datum.k == 'b'"}], "mark": {"type": "bar", "stroke": "#333333", "strokeWidth": 1.1},
       "encoding": {"x": {"field": "q1", "type": "quantitative"}, "x2": {"field": "q3"},
         "fill": {"field": "t", "type": "nominal", "scale": {"domain": ["Chuvoso","Seco"], "range": ["#8AF5E2","#C7B9C4"]}, "legend": null}}},
      {"transform": [{"filter": "datum.k == 'b'"}], "mark": {"type": "tick", "color": "#333333", "thickness": 2.6, "size": 16},
       "encoding": {"x": {"field": "md", "type": "quantitative"}}},
      {"transform": [{"filter": "datum.k == 'b'"}, {"fold": ["lo", "hi"], "as": ["key", "val"]}], "mark": {"type": "tick", "color": "#333333", "thickness": 1.3, "size": 8},
       "encoding": {"x": {"field": "val", "type": "quantitative"}}},
      {"transform": [{"filter": "datum.k == 'o'"}], "mark": {"type": "square", "color": "#333333", "size": 8, "opacity": 1},
       "encoding": {"x": {"field": "v", "type": "quantitative"}}}
    ]
  },
  {
    "width": 270, "height": 546, "view": {"fill": "#EBEBEB", "stroke": null},
    "transform": [{"filter": "datum.z == 'Zona Intermediaria'"}],
    "encoding": {
      "y": {"field": "p", "type": "nominal", "title": null,
            "sort": ["PT-20","PT-28","RB-02","PT-21","PT-22","TM-04","TM-05","TM-06","TM-07","PT-23","PT-29"],
            "scale": {"domain": ["PT-20","PT-28","RB-02","PT-21","PT-22","TM-04","TM-05","TM-06","TM-07","PT-23","PT-29"], "paddingInner": 0, "paddingOuter": 0.104, "align": 0.8},
            "axis": {"domain": false, "labels": false, "ticks": false, "grid": true, "gridColor": "white", "gridWidth": 1.1, "bandPosition": 0.5}},
      "yOffset": {"field": "t", "type": "nominal", "sort": ["Seco","Chuvoso"], "scale": {"domain": ["Seco","Chuvoso"], "paddingInner": 0.06, "paddingOuter": 0.463}}
    },
    "layer": [
      {"transform": [{"filter": "datum.k == 'b'"}], "mark": {"type": "rule", "strokeWidth": 1.1, "color": "#333333"},
       "encoding": {
         "x": {"field": "lo", "type": "quantitative", "title": "Ferro total (mg/L)", "scale": {"domain": [-0.08, 20.84], "nice": false, "zero": false},
               "axis": {"values": [0,2.5,5,7.5,10,12.5,15,17.5,20], "labelExpr": "datum.value % 5 == 0 ? replace(format(datum.value, '.1f'), '.', ',') : ''", "domain": false, "gridColor": "white", "gridWidth": {"condition": {"test": "datum.value % 5 == 0", "value": 1.1}, "value": 0.6}, "tickOpacity": {"condition": {"test": "datum.value % 5 == 0", "value": 1}, "value": 0}, "tickColor": "#333333", "tickSize": 4, "labelColor": "#4D4D4D", "labelFontSize": 17, "labelOverlap": false, "labelFlush": false, "labelPadding": 2,
                        "titleFontSize": 27, "titleFontWeight": "normal", "titleColor": "#000000", "titleAnchor": "start", "titleAlign": "center", "titleX": -5, "titlePadding": 9}},
         "x2": {"field": "hi"}}},
      {"transform": [{"filter": "datum.k == 'b'"}], "mark": {"type": "bar", "stroke": "#333333", "strokeWidth": 1.1},
       "encoding": {"x": {"field": "q1", "type": "quantitative"}, "x2": {"field": "q3"},
         "fill": {"field": "t", "type": "nominal", "scale": {"domain": ["Chuvoso","Seco"], "range": ["#8AF5E2","#C7B9C4"]}, "legend": null}}},
      {"transform": [{"filter": "datum.k == 'b'"}], "mark": {"type": "tick", "color": "#333333", "thickness": 2.6, "size": 16},
       "encoding": {"x": {"field": "md", "type": "quantitative"}}},
      {"transform": [{"filter": "datum.k == 'b'"}, {"fold": ["lo", "hi"], "as": ["key", "val"]}], "mark": {"type": "tick", "color": "#333333", "thickness": 1.3, "size": 8},
       "encoding": {"x": {"field": "val", "type": "quantitative"}}},
      {"transform": [{"filter": "datum.k == 'o'"}], "mark": {"type": "square", "color": "#333333", "size": 8, "opacity": 1},
       "encoding": {"x": {"field": "v", "type": "quantitative"}}}
    ]
  },
  {
    "width": 270, "height": 546, "view": {"fill": "#EBEBEB", "stroke": null},
    "transform": [{"filter": "datum.z == 'Fundo'"}],
    "encoding": {
      "y": {"field": "p", "type": "nominal", "title": null,
            "sort": ["PT-20","PT-28","RB-02","PT-21","PT-22","TM-04","TM-05","TM-06","TM-07","PT-23","PT-29"],
            "scale": {"domain": ["PT-20","PT-28","RB-02","PT-21","PT-22","TM-04","TM-05","TM-06","TM-07","PT-23","PT-29"], "paddingInner": 0, "paddingOuter": 0.104, "align": 0.8},
            "axis": {"domain": false, "labels": false, "ticks": false, "grid": true, "gridColor": "white", "gridWidth": 1.1, "bandPosition": 0.5}},
      "yOffset": {"field": "t", "type": "nominal", "sort": ["Seco","Chuvoso"], "scale": {"domain": ["Seco","Chuvoso"], "paddingInner": 0.06, "paddingOuter": 0.463}}
    },
    "layer": [
      {"transform": [{"filter": "datum.k == 'b'"}], "mark": {"type": "rule", "strokeWidth": 1.1, "color": "#333333"},
       "encoding": {
         "x": {"field": "lo", "type": "quantitative", "title": null, "scale": {"domain": [-0.08, 20.84], "nice": false, "zero": false},
               "axis": {"values": [0,2.5,5,7.5,10,12.5,15,17.5,20], "labelExpr": "datum.value % 5 == 0 ? replace(format(datum.value, '.1f'), '.', ',') : ''", "domain": false, "gridColor": "white", "gridWidth": {"condition": {"test": "datum.value % 5 == 0", "value": 1.1}, "value": 0.6}, "tickOpacity": {"condition": {"test": "datum.value % 5 == 0", "value": 1}, "value": 0}, "tickColor": "#333333", "tickSize": 4, "labelColor": "#4D4D4D", "labelFontSize": 17, "labelOverlap": false, "labelFlush": false, "labelPadding": 2}},
         "x2": {"field": "hi"}}},
      {"transform": [{"filter": "datum.k == 'b'"}], "mark": {"type": "bar", "stroke": "#333333", "strokeWidth": 1.1},
       "encoding": {"x": {"field": "q1", "type": "quantitative"}, "x2": {"field": "q3"},
         "fill": {"field": "t", "type": "nominal", "scale": {"domain": ["Chuvoso","Seco"], "range": ["#8AF5E2","#C7B9C4"]}, "legend": null}}},
      {"transform": [{"filter": "datum.k == 'b'"}], "mark": {"type": "tick", "color": "#333333", "thickness": 2.6, "size": 16},
       "encoding": {"x": {"field": "md", "type": "quantitative"}}},
      {"transform": [{"filter": "datum.k == 'b'"}, {"fold": ["lo", "hi"], "as": ["key", "val"]}], "mark": {"type": "tick", "color": "#333333", "thickness": 1.3, "size": 8},
       "encoding": {"x": {"field": "val", "type": "quantitative"}}},
      {"transform": [{"filter": "datum.k == 'o'"}], "mark": {"type": "square", "color": "#333333", "size": 8, "opacity": 1},
       "encoding": {"x": {"field": "v", "type": "quantitative"}}}
    ]
  }
]
}
